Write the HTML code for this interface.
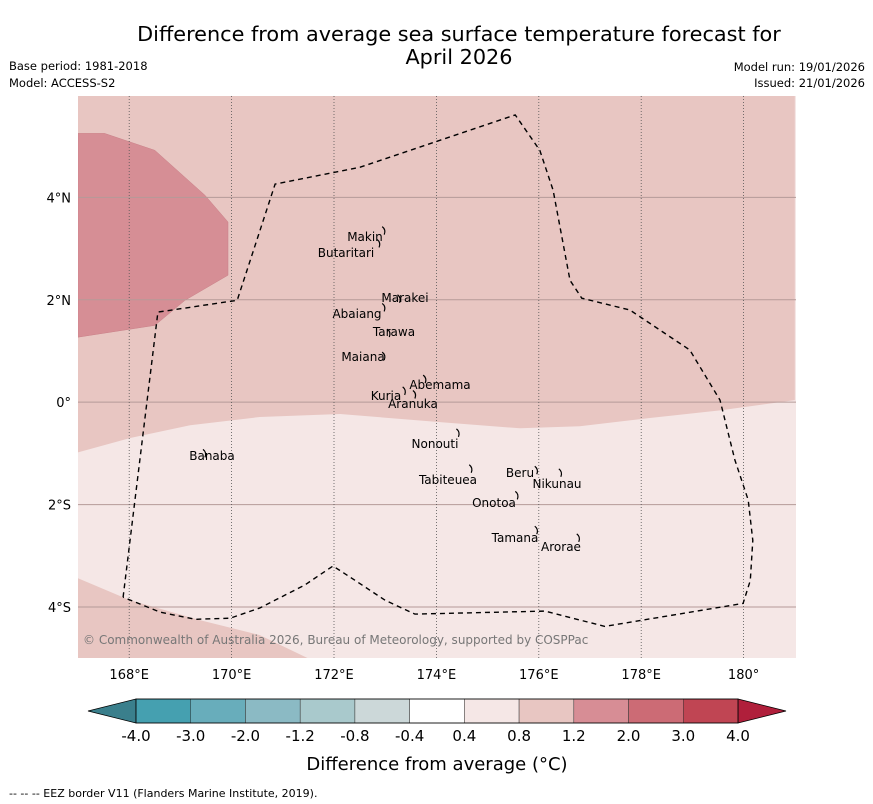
<!DOCTYPE html>
<html><head><meta charset="utf-8"><style>
html,body{margin:0;padding:0;background:#fff;width:873px;height:804px;overflow:hidden}
svg{display:block;font-family:"DejaVu Sans","Liberation Sans",sans-serif}
</style></head><body>
<svg id="chart" width="873" height="804" xmlns="http://www.w3.org/2000/svg">
<text x="459" y="41" font-size="20.8" text-anchor="middle">Difference from average sea surface temperature forecast for</text>
<text x="459" y="64" font-size="20.8" text-anchor="middle">April 2026</text>
<text x="9" y="70" font-size="11.5">Base period: 1981-2018</text>
<text x="9" y="87" font-size="11.5">Model: ACCESS-S2</text>
<text x="865" y="71" font-size="11.5" text-anchor="end">Model run: 19/01/2026</text>
<text x="865" y="87" font-size="11.5" text-anchor="end">Issued: 21/01/2026</text>
<g id="map"></g>
<g id="cbar"></g>
<text x="437" y="770" font-size="18" text-anchor="middle">Difference from average (°C)</text>
<text x="9" y="797" font-size="11">--  --  -- EEZ border V11 (Flanders Marine Institute, 2019).</text>
</svg>
<script>
const lonTicks=[168,170,172,174,176,178,180];
const lonLabels=["168°E","170°E","172°E","174°E","176°E","178°E","180°"];
const latTicks=[4,2,0,-2,-4];
const latLabels=["4°N","2°N","0°","2°S","4°S"];
const eezLon=[167.88,168.56,170.11,170.85,172.51,175.54,176.02,176.28,176.61,176.84,177.78,178.95,179.54,179.83,180.09,180.18,180.13,179.99,177.29,176.12,173.58,173.0,172.35,171.98,171.43,170.55,169.97,169.29,168.60,167.88];
const eezLat=[-3.81,1.76,1.99,4.26,4.59,5.61,4.92,4.14,2.38,2.03,1.80,1.02,0.04,-1.13,-1.91,-2.70,-3.48,-3.93,-4.38,-4.08,-4.14,-3.87,-3.44,-3.20,-3.57,-4.02,-4.22,-4.24,-4.10,-3.81];
const hotLon=[167,167.52,168.5,169.48,169.93,169.93,169.09,168.5,167.52,167];
const hotLat=[5.25,5.25,4.92,4.04,3.52,2.48,1.99,1.50,1.35,1.27];
const bandLon=[167,168.02,169.19,170.55,172.12,174.07,175.63,176.8,178.17,179.54,181];
const bandLat=[-0.98,-0.70,-0.45,-0.29,-0.23,-0.39,-0.51,-0.47,-0.31,-0.16,0.04];
const patchLon=[167,168.02,169.39,170.55,171.49,167];
const patchLat=[-3.44,-3.87,-4.26,-4.55,-5.0,-5.0];
const cbLevels=["-4.0","-3.0","-2.0","-1.2","-0.8","-0.4","0.4","0.8","1.2","2.0","3.0","4.0"];
const cbColors=["#45a0b0","#68adbb","#8bbac4","#a9c9cc","#ccd8d9","#ffffff","#f5e7e6","#e8c6c2","#d78d95","#cc6b75","#c04553"];
const islandName=["Makin","Butaritari","Marakei","Abaiang","Tarawa","Maiana","Abemama","Kuria","Aranuka","Nonouti","Banaba","Beru","Nikunau","Tabiteuea","Onotoa","Tamana","Arorae"];
const islandLon=[173.0,172.9,173.3,173.0,173.1,173.0,173.8,173.4,173.6,174.45,169.5,175.98,176.45,174.7,175.6,175.98,176.8];
const islandLat=[3.35,3.1,2.02,1.85,1.35,0.9,0.45,0.22,0.15,-0.6,-1.0,-1.33,-1.38,-1.3,-1.82,-2.5,-2.65];
const labX=[365,346,405,357,394,363,440,386,413,435,212,520,557,448,494,515,561];
const labY=[241,257,302,318,336,361,389,400,408,448,460,477,488,484,507,542,551];

const NS="http://www.w3.org/2000/svg";
const X0=78,X1=796,Y0=96,Y1=658,LON0=167,LAT0=5.98,PPD=51.2;
const xs=lon=>X0+(lon-LON0)*PPD;
const ys=lat=>Y0+(LAT0-lat)*PPD;
const map=document.getElementById('map');
function mk(tag,attrs,parent){const e=document.createElementNS(NS,tag);for(const k in attrs)e.setAttribute(k,attrs[k]);parent.appendChild(e);return e;}
function pts(lo,la){return lo.map((v,i)=>xs(v).toFixed(1)+','+ys(la[i]).toFixed(1)).join(' ');}
const cp=mk('clipPath',{id:'clip'},map);mk('rect',{x:X0,y:Y0,width:X1-X0,height:Y1-Y0},cp);
const g=mk('g',{'clip-path':'url(#clip)'},map);
let bg=mk('rect',{x:X0,y:Y0,width:X1-X0,height:Y1-Y0,fill:'#f5e7e6'},g);


let band=mk('polygon',{points:xs(181)+','+Y0+' '+X0+','+Y0+' '+pts(bandLon,bandLat),fill:'#e8c6c2'},g);


let hot=mk('polygon',{points:pts(hotLon,hotLat),fill:'#d68e95',stroke:'#c98088','stroke-width':0.5},g);


let patch=mk('polygon',{points:pts(patchLon,patchLat),fill:'#e8c6c2'},g);


latTicks.forEach((t,i)=>{
  const y=ys(t);
  const l=mk('line',{x1:X0,x2:X1,y1:y,y2:y,stroke:'#b59a98','stroke-width':1},g);
  
  
  const tx=mk('text',{x:X0-7,y:y+5,'font-size':13,'text-anchor':'end'},map);tx.textContent=latLabels[i];
  
  
});
lonTicks.forEach((t,i)=>{
  const x=xs(t);
  const l=mk('line',{x1:x,x2:x,y1:Y0,y2:Y1,stroke:'#555','stroke-width':0.8,'stroke-dasharray':'1,2'},g);
  
  
  const tx=mk('text',{x:x,y:Y1+21,'font-size':13,'text-anchor':'middle'},map);tx.textContent=lonLabels[i];
  
  
});
let eez=mk('polyline',{points:pts(eezLon,eezLat),fill:'none',stroke:'#000','stroke-width':1.4,'stroke-dasharray':'5,4'},g);


islandName.forEach((n,i)=>{
  const x=xs(islandLon[i]),y=ys(islandLat[i]);
  const s=mk('path',{d:`M${x-3},${y-4} q4,3 2,8`,fill:'none',stroke:'#000','stroke-width':1.2},g);
  
  
  const t=mk('text',{x:labX[i],y:labY[i],'font-size':12,'text-anchor':'middle'},g);t.textContent=n;
  
  
});
const cr=mk('text',{x:83,y:644,'font-size':12,fill:'#777'},g);cr.textContent='© Commonwealth of Australia 2026, Bureau of Meteorology, supported by COSPPac';



const cb=document.getElementById('cbar');
const CX0=136,CX1=738,CY0=699,CY1=723,n=cbColors.length,w=(CX1-CX0)/n;
const lt=mk('polygon',{points:`${CX0},${CY0} 88,${(CY0+CY1)/2} ${CX0},${CY1}`,fill:'#3a7f8c',stroke:'#000','stroke-width':0.8},cb);


const rt=mk('polygon',{points:`${CX1},${CY0} 786,${(CY0+CY1)/2} ${CX1},${CY1}`,fill:'#b01f3b',stroke:'#000','stroke-width':0.8},cb);


cbColors.forEach((c,i)=>{
  const r=mk('rect',{x:CX0+i*w,y:CY0,width:w,height:CY1-CY0,fill:c,stroke:'#333','stroke-width':0.5},cb);
  
  
});
mk('rect',{x:CX0,y:CY0,width:CX1-CX0,height:CY1-CY0,fill:'none',stroke:'#000','stroke-width':0.8},cb);
cbLevels.forEach((l,i)=>{
  const t=mk('text',{x:CX0+i*w,y:741,'font-size':15,'text-anchor':'middle'},cb);t.textContent=l;
  
  
});
</script>
</body></html>
